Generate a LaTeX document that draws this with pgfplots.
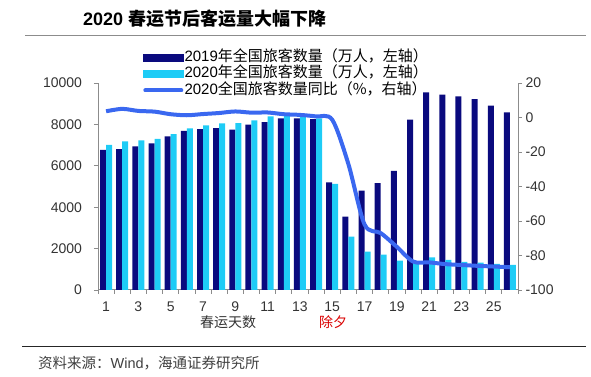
\documentclass[border=0pt]{standalone}
\usepackage{fontspec}
\usepackage{pgfplots}
\pgfplotsset{compat=1.18}
\setmainfont{Liberation Sans}
\newfontfamily\cjk{Noto Sans CJK SC}
\definecolor{darkbar}{HTML}{0A0A7E}
\definecolor{lightbar}{HTML}{1ECCF6}
\definecolor{linecol}{HTML}{3A68F0}
\definecolor{axgray}{HTML}{8C8C8C}
\begin{document}
\begin{tikzpicture}
\path[use as bounding box] (0pt,0pt) rectangle (591pt,377pt);
\node[anchor=west, font=\fontsize{18}{20}\selectfont\bfseries, inner sep=0] at (83pt,358pt) {2020 {\cjk 春运节后客运量大幅下降}};
\draw[axgray, line width=1.5pt] (25pt,341.3pt) -- (586pt,341.3pt);
\draw[black!85, line width=1pt] (22pt,30.3pt) -- (586pt,30.3pt);
\node[anchor=west, font=\fontsize{14.5}{16}\selectfont, text=black!75, inner sep=0] at (38pt,14pt) {{\cjk 资料来源：}Wind{\cjk ，海通证券研究所}};
\node[font=\fontsize{14}{16}\selectfont\cjk, text=black!80, inner sep=0] at (228pt,55pt) {春运天数};
\node[font=\fontsize{14}{16}\selectfont\cjk, text=red!85!black, inner sep=0] at (333pt,55pt) {除夕};

\begin{axis}[at={(98pt,87pt)}, anchor=south west, scale only axis, width=420pt, height=207pt,
  xmin=0.5, xmax=26.5, ymin=0, ymax=10000,
  axis x line*=bottom, axis y line*=left,
  axis line style={axgray, line width=1pt},
  tick style={axgray, line width=0.8pt}, tick align=outside, major tick length=4pt,
  xtick={0.5,1.5,...,26.5}, xticklabels={},
  extra x ticks={1,3,...,25},
  extra x tick style={major tick length=0pt, tick style={draw=none}, xticklabel style={yshift=-8pt}},
  ytick={0,2000,...,10000}, scaled y ticks=false,
  yticklabel style={xshift=-8.5pt},
  ticklabel style={font=\fontsize{14}{16}\selectfont, text=black!80},
  /pgf/number format/assume math mode=true, /pgf/number format/1000 sep={},
  clip=false]
\addplot[ybar, bar width=6pt, bar shift=-3pt, fill=darkbar, draw=none] coordinates {
(1,6770) (2,6806) (3,6935) (4,7080) (5,7419) (6,7693) (7,7774) (8,7823) (9,7742) (10,7984)
(11,8113) (12,8290) (13,8290) (14,8250) (15,5194) (16,3548) (17,4806) (18,5161) (19,5758) (20,8226)
(21,9548) (22,9435) (23,9355) (24,9226) (25,8903) (26,8580)};
\addplot[ybar, bar width=6pt, bar shift=3pt, fill=lightbar, draw=none] coordinates {
(1,7016) (2,7177) (3,7226) (4,7306) (5,7532) (6,7806) (7,7952) (8,8048) (9,8065) (10,8194)
(11,8387) (12,8400) (13,8400) (14,8290) (15,5129) (16,2581) (17,1855) (18,1710) (19,1419) (20,1290)
(21,1580) (22,1450) (23,1355) (24,1320) (25,1258) (26,1210)};
\end{axis}

\begin{axis}[at={(98pt,87pt)}, anchor=south west, scale only axis, width=420pt, height=207pt,
  xmin=0.5, xmax=26.5, ymin=-100, ymax=20,
  axis x line=none, axis y line*=right,
  axis line style={axgray, line width=1pt},
  tick style={axgray, line width=0.8pt}, tick align=outside, major tick length=4pt,
  ytick={-100,-80,...,20},
  ticklabel style={font=\fontsize{14}{16}\selectfont, text=black!80},
  /pgf/number format/assume math mode=true,
  legend cell align=left,
  legend style={draw=none, fill=none, inner sep=0pt, at={(0.107,1.164)}, anchor=north west,
    font=\fontsize{15}{15}\selectfont, row sep=0pt,
    nodes={inner sep=1pt, text height=11pt, text depth=3.5pt}},
  clip=false]
\addlegendimage{legend image code/.code={\fill[darkbar] (0pt,-3.5pt) rectangle (40pt,3.5pt);}}
\addlegendentry{2019{\cjk 年全国旅客数量（万人，左轴）}}
\addlegendimage{legend image code/.code={\fill[lightbar] (0pt,-3.5pt) rectangle (40pt,3.5pt);}}
\addlegendentry{2020{\cjk 年全国旅客数量（万人，左轴）}}
\addplot[linecol, line width=4pt, smooth, line join=round,
  legend image code/.code={\draw[linecol,line width=4pt,line cap=round] (2pt,0pt)--(38pt,0pt);}] coordinates {
(1,3.6) (2,5.0) (3,3.8) (4,3.4) (5,1.9) (6,1.3) (7,2.0) (8,2.6) (9,3.5) (10,2.8)
(11,2.9) (12,1.9) (13,1.5) (14,0.6) (15,-1.3) (16,-27) (17,-62) (18,-67) (19,-75) (20,-83.5)
(21,-84) (22,-85) (23,-85.5) (24,-86) (25,-86.4) (26,-86.8)};
\addlegendentry{2020{\cjk 全国旅客数量同比（\%，右轴）}}
\end{axis}
\end{tikzpicture}
\end{document}
